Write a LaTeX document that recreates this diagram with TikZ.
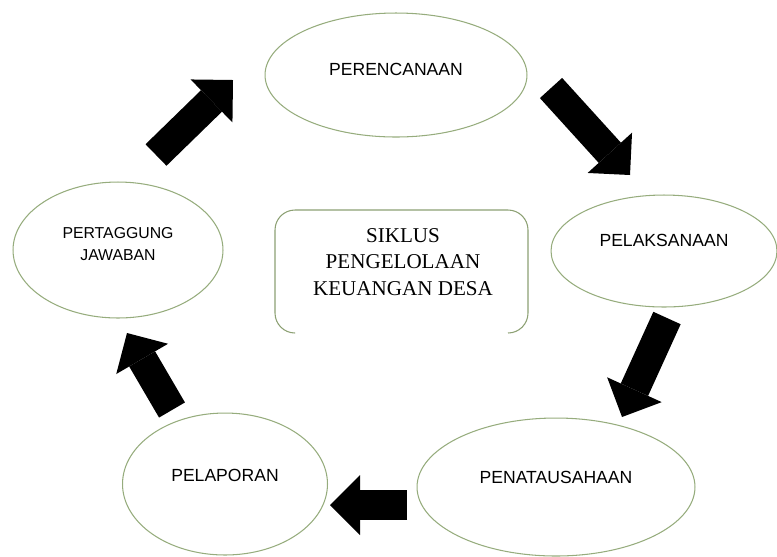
\documentclass[tikz,border=0pt]{standalone}
\usepackage{fontspec}
\setmainfont{Liberation Serif}
\setsansfont{Liberation Sans}
\usetikzlibrary{shapes.geometric,arrows.meta}
\definecolor{rimgreen}{RGB}{150,172,125}
\definecolor{boxgreen}{RGB}{140,160,115}
\tikzset{
  stage/.style={draw=rimgreen, line width=0.6pt, ellipse, inner sep=0pt},
  stagetext/.style={font=\sffamily\fontsize{10}{12}\selectfont, align=center},
  bigarrow/.style={line width=0.6cm, -{Triangle[length=0.6cm,width=1.2cm,line width=0pt]}}
}
\begin{document}
\begin{tikzpicture}[x=0.02cm,y=-0.02cm]
\useasboundingbox (0,0) rectangle (777,556);

% the five stages
\node[stage, minimum width=5.24cm, minimum height=2.48cm,
  label={[stagetext,yshift=0.12cm]center:PERENCANAAN}] (plan) at (396,75) {};
\node[stage, minimum width=4.52cm, minimum height=2.24cm,
  label={[stagetext,yshift=0.22cm]center:PELAKSANAAN}] (exec) at (664,251) {};
\node[stage, minimum width=5.56cm, minimum height=2.76cm,
  label={[stagetext,yshift=0.2cm]center:PENATAUSAHAAN}] (admin) at (556,487) {};
\node[stage, minimum width=4.1cm, minimum height=2.84cm,
  label={[stagetext,yshift=0.18cm]center:PELAPORAN}] (report) at (225,484) {};
\node[stage, minimum width=4.2cm, minimum height=2.72cm,
  label={[stagetext,font=\sffamily\fontsize{9}{12.5}\selectfont,yshift=0.12cm]center:{PERTAGGUNG\\JAWABAN}}] (account) at (118,250) {};

% centre box, open at the bottom
\draw[boxgreen, line width=0.6pt, rounded corners=0.4cm] (295,333) -- (275,333) -- (275,210) -- (528,210) -- (528,333) -- (508,333);
\node[font=\fontsize{12}{15.3}\selectfont, align=center] (cyc) at (403,262) {SIKLUS\\PENGELOLAAN\\KEUANGAN DESA};

% block arrows
\coordinate (a1s) at (156,155); \coordinate (a1e) at (233,80);
\coordinate (a2s) at (551,88);  \coordinate (a2e) at (630,175);
\coordinate (a3s) at (667,318); \coordinate (a3e) at (622,417);
\coordinate (a4s) at (407,505); \coordinate (a4e) at (330,505);
\coordinate (a5s) at (172,410); \coordinate (a5e) at (127,333);
\draw[bigarrow] (a1s) -- (a1e);
\draw[bigarrow] (a2s) -- (a2e);
\draw[bigarrow] (a3s) -- (a3e);
\draw[bigarrow] (a4s) -- (a4e);
\draw[bigarrow] (a5s) -- (a5e);

\end{tikzpicture}
\end{document}
